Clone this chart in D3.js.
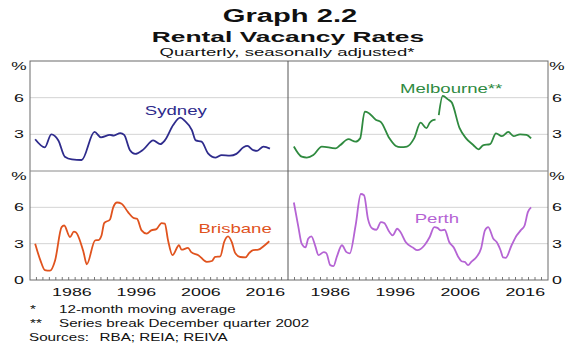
<!DOCTYPE html>
<html>
<head>
<meta charset="utf-8">
<script src="https://cdn.jsdelivr.net/npm/d3@7"></script>
<style>
body { margin: 0; background: #fff; }
text { font-family: Arial, "Liberation Sans", sans-serif; fill: #111; }
</style>
</head>
<body>
<svg id="chart" width="580" height="352"></svg>
<script>
var svg = d3.select('#chart');
var width = +svg.attr('width'), height = +svg.attr('height');

// values (year, per cent)
var sydneyYears = [1980.8,1982.3,1983.3,1984.4,1985.4,1986.5,1988,1990,1991,1992.4,1993,1994,1994.6,1995.5,1996.3,1997.6,1999.1,2000.2,2000.9,2002.2,2003.3,2004,2005.1,2005.7,2006.6,2007.6,2008.8,2009.7,2011,2012,2013.1,2013.7,2014.6,2015.2,2016.2,2017.2];
var sydneyRates = [2.6,1.94,3.0,2.5,1.17,0.95,0.9,3.2,2.75,2.95,2.9,3.1,2.95,1.7,1.4,1.77,2.5,2.2,2.5,3.76,4.36,4.1,3.35,2.5,2.4,1.45,1.1,1.3,1.25,1.4,1.94,2.05,1.7,1.65,2.0,1.83];

// null marks the series break
var melbourneYears = [1980.9,1982.1,1982.9,1983.9,1985.2,1987.3,1988,1989.3,1990.4,1991.1,1991.8,1992.4,1993.5,1994.3,1995.6,1996.6,1997.3,1998.3,1999.4,2000.4,2001.3,2001.8,2002.3,2002.7,2002.9,2003.2,2003.8,2004.6,2005.2,2006.4,2007.4,2008.5,2009.3,2010,2011.1,2012,2012.9,2013.9,2014.7,2015.7,2016.7,2017.4];
var melbourneRates = [2.0,1.17,1.1,1.3,2.0,1.85,2.1,2.6,2.4,2.67,4.85,4.75,4.2,4.0,2.67,2.05,1.95,2.0,2.67,3.95,3.5,3.95,4.17,4.2,null,4.58,6.14,5.86,5.6,3.5,2.67,2.13,1.77,2.1,2.2,3.08,2.85,3.2,2.85,3.0,2.95,2.67];

var brisbaneYears = [1980.8,1981.6,1982.3,1983.1,1983.9,1984.9,1985.3,1986.2,1986.8,1987.1,1988.3,1988.8,1990.1,1990.6,1991.1,1991.5,1992.4,1992.9,1993.5,1994.2,1995.2,1996,1996.6,1997.3,1998.1,1998.8,1999.6,2000.4,2000.9,2001.4,2002.1,2003.1,2003.5,2004.5,2005,2006.1,2007.4,2008.2,2008.7,2009.5,2010.1,2010.7,2011.3,2011.8,2012.6,2013.4,2014,2014.6,2015.4,2016.4,2017.1];
var brisbaneRates = [3.0,1.64,0.82,0.77,1.64,4.37,4.5,3.55,4.0,3.95,2.3,1.3,3.28,3.3,3.7,4.7,5.0,6.0,6.4,6.3,5.6,5.14,5.05,4.1,3.83,4.1,4.2,4.7,4.65,3.28,2.05,2.87,2.5,2.65,2.3,2.05,1.5,1.57,1.9,1.95,3.14,3.6,3.1,2.24,1.9,1.87,2.24,2.46,2.5,2.87,3.2];

var perthYears = [1980.9,1981.6,1982.1,1982.7,1983.1,1983.6,1984.2,1984.7,1985.5,1985.9,1986.5,1987,1987.5,1988.3,1989,1989.5,1990.4,1991.2,1991.7,1992.3,1993,1993.6,1994.3,1994.8,1995.6,1996.1,1996.8,1997.3,1998.1,1999.2,1999.9,2001,2001.8,2002.5,2003,2003.5,2004.1,2004.8,2005.5,2006.2,2006.7,2007.2,2007.7,2008.2,2009,2009.7,2010.3,2010.8,2011.6,2012.1,2012.7,2013.1,2013.5,2014.4,2015.2,2015.8,2016.4,2016.9,2017.4];
var perthRates = [6.4,4.37,3.0,2.69,3.4,3.6,2.8,2.05,2.3,2.22,1.23,1.15,1.9,2.87,2.3,2.2,4.5,7.1,7.0,5.05,4.24,4.15,4.78,4.7,3.96,3.69,4.23,3.96,3.14,2.68,2.46,2.87,3.55,4.37,4.3,4.1,4.15,3.14,2.68,1.9,1.55,1.5,1.23,1.5,1.9,2.6,4.1,4.37,3.4,3.14,2.46,1.86,1.83,2.87,3.69,4.1,4.5,5.6,6.0];

var yTicks = [3, 6];
var yearLabels = [1986, 1996, 2006, 2016];
var footnotes = [['*', '12-month moving average'], ['**', 'Series break December quarter 2002']];

// the original picture is stretched sideways, so text is too
function label(x, y, str, size, stretch, anchor, weight, color) {
	return svg.append('text')
		.attr('transform', 'translate(' + x + ',' + y + ') scale(' + stretch + ',1)')
		.attr('text-anchor', anchor || 'start')
		.attr('font-size', size)
		.attr('font-weight', weight || 'normal')
		.style('fill', color || '#111')
		.text(str);
}

var plotL = 30, plotM = 288, plotR = 548, plotT = 61, plotMid = 171, plotB = 280;

var panels = [
	{name: 'Sydney', years: sydneyYears, rates: sydneyRates, color: '#2e2b8c', col: 0, row: 0, at: [2002.6, 4.58]},
	{name: 'Melbourne**', years: melbourneYears, rates: melbourneRates, color: '#2f8a3f', col: 1, row: 0, at: [2005.1, 6.38]},
	{name: 'Brisbane', years: brisbaneYears, rates: brisbaneRates, color: '#e0531e', col: 0, row: 1, at: [2011.8, 3.88]},
	{name: 'Perth', years: perthYears, rates: perthRates, color: '#b564d4', col: 1, row: 1, at: [2002.9, 4.7]}
];

var xs = [
	d3.scaleLinear().domain([1980, 2020]).range([plotL, plotM]),
	d3.scaleLinear().domain([1980, 2020]).range([plotM, plotR])
];
var ys = [
	d3.scaleLinear().domain([0, 9]).range([plotMid, plotT]),
	d3.scaleLinear().domain([0, 9]).range([plotB, plotMid])
];

// gridlines
ys.forEach(function(y) {
	svg.selectAll(null).data(yTicks).enter().append('line')
		.attr('x1', plotL).attr('x2', plotR)
		.attr('y1', d => y(d)).attr('y2', d => y(d))
		.attr('stroke', '#d4d4d4').attr('stroke-width', 1);
});

// year ticks along the bottom
xs.forEach(function(x) {
	svg.selectAll(null).data(d3.range(1981, 2020)).enter().append('line')
		.attr('x1', d => x(d)).attr('x2', d => x(d))
		.attr('y1', plotB).attr('y2', plotB - 3)
		.attr('stroke', '#555').attr('stroke-width', 0.8);
	yearLabels.forEach(function(yr) {
		label(x(yr + 0.5), 296, yr, 11.5, 1.55, 'middle');
	});
});

// frame and dividers
svg.append('rect').attr('x', plotL).attr('y', plotT).attr('width', plotR - plotL).attr('height', plotB - plotT)
	.attr('fill', 'none').attr('stroke', '#6a6a6a').attr('stroke-width', 1);
svg.append('line').attr('x1', plotL).attr('x2', plotR).attr('y1', plotMid).attr('y2', plotMid)
	.attr('stroke', '#8a8a8a').attr('stroke-width', 1);
svg.append('line').attr('x1', plotM).attr('x2', plotM).attr('y1', plotT).attr('y2', plotB)
	.attr('stroke', '#555').attr('stroke-width', 1);

// y labels both sides
ys.forEach(function(y, i) {
	[19, 557].forEach(function(px) {
		label(px, y(9) + 9, '%', 11.5, 1.5, 'middle');
		yTicks.forEach(function(t) { label(px, y(t) + 4, t, 11.5, 1.55, 'middle'); });
		if (i == 1) label(px, y(0) + 4, 0, 11.5, 1.55, 'middle');
	});
});

// series
panels.forEach(function(p) {
	var x = xs[p.col], y = ys[p.row];
	var pts = p.years.map((yr, i) => [yr, p.rates[i]]);
	var line = d3.line()
		.defined(d => d[1] != null)
		.x(d => x(d[0])).y(d => y(d[1]))
		.curve(d3.curveMonotoneX);
	svg.append('path').datum(pts)
		.attr('d', line)
		.attr('fill', 'none').attr('stroke', p.color)
		.attr('stroke-width', 1.8).attr('stroke-linejoin', 'round');
	label(x(p.at[0]), y(p.at[1]), p.name, 12, 1.55, 'middle', 'normal', p.color);
});

// titles
label(290, 22, 'Graph 2.2', 18, 1.62, 'middle', 'bold');
label(288, 41.5, 'Rental Vacancy Rates', 15.5, 1.7, 'middle', 'bold');
label(287, 56, 'Quarterly, seasonally adjusted*', 11.8, 1.57, 'middle');

// notes
footnotes.forEach(function(f, i) {
	label(30, 313 + i * 14, f[0], 10.5, 1.45);
	label(59, 313 + i * 14, f[1], 10.5, 1.45);
});
label(29, 341, 'Sources:', 10.5, 1.45);
label(99.5, 341, 'RBA; REIA; REIVA', 10.5, 1.45);
</script>
</body>
</html>
